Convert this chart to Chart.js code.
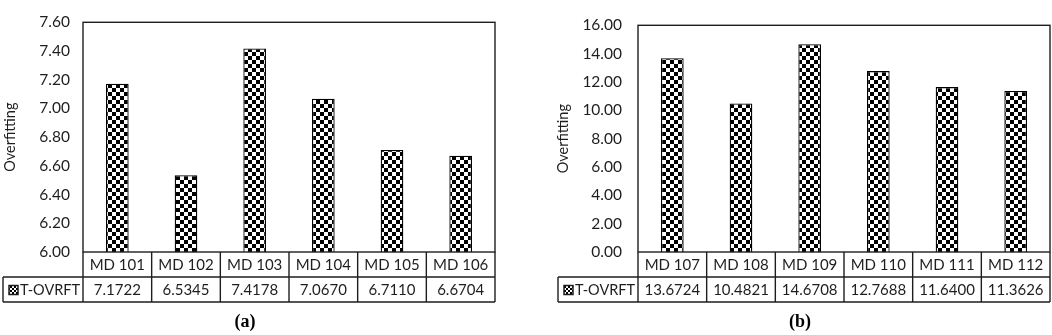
<!DOCTYPE html>
<html>
<head>
<meta charset="utf-8">
<script src="https://cdn.jsdelivr.net/npm/chart.js@4.4.1/dist/chart.umd.min.js"></script>
<style>
  body { margin: 0; background: #fff; width: 1052px; height: 335px; overflow: hidden; position: relative; }
  .panel { position: absolute; top: 0; height: 335px; }
</style>
</head>
<body>
<div class="panel" style="left:0;width:526px"><canvas id="chartA" width="526" height="335"></canvas></div>
<div class="panel" style="left:530px;width:522px"><canvas id="chartB" width="522" height="335"></canvas></div>
<script>
// data
const seriesName = 'T-OVRFT';
const categoriesA = ['MD 101', 'MD 102', 'MD 103', 'MD 104', 'MD 105', 'MD 106'];
const valuesA = [7.1722, 6.5345, 7.4178, 7.0670, 6.7110, 6.6704];
const categoriesB = ['MD 107', 'MD 108', 'MD 109', 'MD 110', 'MD 111', 'MD 112'];
const valuesB = [13.6724, 10.4821, 14.6708, 12.7688, 11.6400, 11.3626];
const yAxisA = { min: 6, max: 7.6, step: 0.2 };
const yAxisB = { min: 0, max: 16, step: 2 };

const FONT = 'Lato, "Open Sans", sans-serif';
const INK = '#1e1e1e';

// checkerboard fill like the Excel pattern
function checker(size) {
  const c = document.createElement('canvas');
  c.width = size * 2; c.height = size * 2;
  const g = c.getContext('2d');
  g.fillStyle = '#fff'; g.fillRect(0, 0, c.width, c.height);
  g.fillStyle = '#000';
  g.fillRect(0, 0, size, size);
  g.fillRect(size, size, size, size);
  return g.createPattern(c, 'repeat');
}

const tablePlugin = {
  id: 'tablePlugin',
  afterDraw(chart, args, opts) {
    const ctx = chart.ctx;
    const a = chart.chartArea;
    const x = chart.scales.x;
    const labels = chart.data.labels;
    const vals = chart.data.datasets[0].data;
    const n = labels.length;
    const step = (a.right - a.left) / n;
    const r1 = a.bottom, r2 = a.bottom + 25, r3 = a.bottom + 50;
    const tl = opts.tableLeft;

    ctx.save();
    ctx.strokeStyle = INK;
    ctx.lineWidth = 1.4;
    ctx.strokeRect(a.left, a.top, a.right - a.left, a.bottom - a.top);
    ctx.beginPath();
    ctx.moveTo(a.left, r3); ctx.lineTo(a.left, r1);
    ctx.moveTo(tl, r2); ctx.lineTo(a.right, r2);
    ctx.moveTo(tl, r3); ctx.lineTo(a.right, r3);
    ctx.moveTo(tl, r2); ctx.lineTo(tl, r3);
    for (let i = 1; i <= n; i++) {
      const xx = a.left + step * i;
      ctx.moveTo(xx, r1); ctx.lineTo(xx, r3);
    }
    ctx.stroke();

    ctx.fillStyle = INK;
    ctx.font = '15px ' + FONT;
    ctx.textAlign = 'center';
    ctx.textBaseline = 'middle';
    for (let i = 0; i < n; i++) {
      const cx = x.getPixelForValue(i);
      ctx.fillText(labels[i], cx, (r1 + r2) / 2 + 1);
      ctx.fillText(vals[i].toFixed(4), cx, (r2 + r3) / 2 + 1);
    }

    // legend key
    const ky = (r2 + r3) / 2 - 4;
    ctx.fillStyle = checker(2);
    ctx.fillRect(tl + 6, ky, 9, 9);
    ctx.lineWidth = 1.5;
    ctx.strokeRect(tl + 6, ky, 9, 9);
    ctx.fillStyle = INK;
    ctx.textAlign = 'left';
    ctx.font = '14.5px ' + FONT;
    ctx.fillText(seriesName, tl + 17, (r2 + r3) / 2 + 1);

    // caption
    ctx.font = 'bold 18px "Liberation Serif", serif';
    ctx.textAlign = 'center';
    ctx.fillStyle = '#000';
    ctx.fillText(opts.caption, opts.captionX, 322);
    ctx.restore();
  }
};

function makeChart(id, cats, vals, yr, layout) {
  return new Chart(document.getElementById(id), {
    type: 'bar',
    data: {
      labels: cats,
      datasets: [{
        label: seriesName,
        data: vals,
        backgroundColor: checker(4),
        borderColor: '#000',
        borderWidth: 1.3,
        borderSkipped: 'bottom',
        categoryPercentage: 1,
        barPercentage: 0.33
      }]
    },
    options: {
      responsive: false,
      animation: false,
      layout: { padding: { left: layout.padLeft, right: layout.padRight, top: 8, bottom: 83 } },
      plugins: {
        legend: { display: false },
        tooltip: { enabled: false },
        tablePlugin: { tableLeft: layout.tableLeft, caption: layout.caption, captionX: layout.captionX }
      },
      scales: {
        x: { display: false },
        y: {
          min: yr.min, max: yr.max,
          grid: { display: false, drawTicks: false },
          border: { display: false },
          afterFit: s => { s.width = layout.yWidth; },
          ticks: {
            stepSize: yr.step,
            padding: layout.tickPad,
            color: INK,
            font: { family: FONT, size: 15.5 },
            callback: v => Number(v).toFixed(2)
          },
          title: {
            display: true, text: 'Overfitting', color: INK,
            font: { family: FONT, size: 14.5 }, padding: { top: 2, bottom: 0 }
          }
        }
      }
    },
    plugins: [tablePlugin]
  });
}

makeChart('chartA', categoriesA, valuesA, yAxisA,
  { padLeft: 0, yWidth: 83, padRight: 31, tableLeft: 3, tickPad: 13, caption: '(a)', captionX: 245 });
makeChart('chartB', categoriesB, valuesB, yAxisB,
  { padLeft: 23, yWidth: 85, padRight: 2, tableLeft: 28, tickPad: 16, caption: '(b)', captionX: 270 });
</script>
</body>
</html>
